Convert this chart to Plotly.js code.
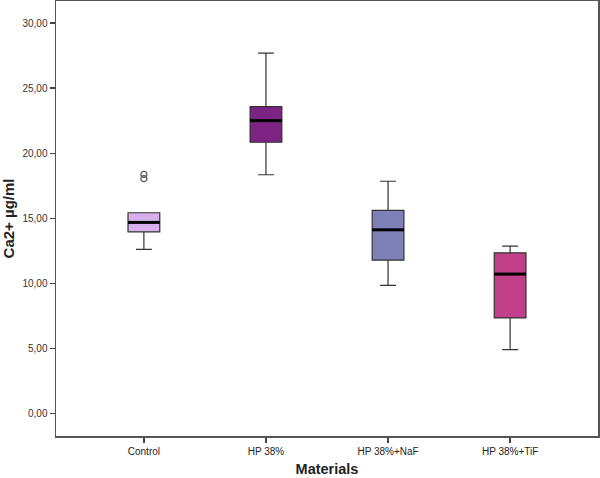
<!DOCTYPE html>
<html>
<head>
<meta charset="utf-8">
<script src="https://cdn.plot.ly/plotly-3.0.1.min.js"></script>
<style>html,body{margin:0;padding:0;background:#fff;}#chart{width:600px;height:478px;}</style>
</head>
<body>
<div id="chart"></div>
<script>
// Data
const categories = ["Control", "HP 38%", "HP 38%+NaF", "HP 38%+TiF"];
const lowerWhisker = [12.62, 18.35, 9.85, 4.92];
const q1 = [13.97, 20.85, 11.79, 7.35];
const medians = [14.69, 22.51, 14.12, 10.72];
const q3 = [15.43, 23.58, 15.62, 12.35];
const upperWhisker = [15.43, 27.69, 17.85, 12.87];
const outlierCategory = ["Control", "Control"];
const outlierValues = [18.38, 18.05];
const boxColors = ["#D9B0EE", "#7D2383", "#7E80B8", "#C2408A"];

const boxWidth = 0.26;
const traces = categories.map((c, i) => ({
  type: "box",
  x: [c],
  q1: [q1[i]],
  median: [medians[i]],
  q3: [q3[i]],
  lowerfence: [lowerWhisker[i]],
  upperfence: [upperWhisker[i]],
  width: boxWidth,
  whiskerwidth: 0.5,
  fillcolor: boxColors[i],
  line: {color: "#333333", width: 1.2},
  boxpoints: false,
  hoverinfo: "skip",
  showlegend: false
}));

traces.push({
  type: "scatter",
  mode: "markers",
  x: outlierCategory,
  y: outlierValues,
  marker: {symbol: "circle-open", size: 6, color: "#555555", line: {width: 1.2}},
  showlegend: false,
  hoverinfo: "skip"
});

const shapes = categories.map((c, i) => ({
  type: "line",
  xref: "x",
  yref: "y",
  x0: i - boxWidth / 2,
  x1: i + boxWidth / 2,
  y0: medians[i],
  y1: medians[i],
  line: {color: "#000000", width: 3}
}));

const layout = {
  width: 600,
  height: 478,
  margin: {l: 56, r: 2, t: 1, b: 42},
  paper_bgcolor: "#ffffff",
  plot_bgcolor: "#ffffff",
  separators: ",.",
  font: {family: "Liberation Sans, Arial, sans-serif", color: "#222"},
  shapes: shapes,
  xaxis: {
    type: "category",
    categoryarray: categories,
    range: [-0.72, 3.72],
    showgrid: false,
    zeroline: false,
    showline: true,
    mirror: true,
    linecolor: "#555555",
    linewidth: 1.5,
    ticks: "outside",
    ticklen: 5,
    tickwidth: 1.5,
    tickcolor: "#444444",
    tickfont: {size: 10, color: "#222"},
    title: {text: "<b>Materials</b>", font: {size: 14.5, color: "#222"}, standoff: 8}
  },
  yaxis: {
    range: [-1.72, 31.7],
    tickvals: [0, 5, 10, 15, 20, 25, 30],
    tickformat: ".2f",
    showgrid: false,
    zeroline: false,
    showline: true,
    mirror: true,
    linecolor: "#555555",
    linewidth: 1.5,
    ticks: "outside",
    ticklen: 5,
    tickwidth: 1.5,
    tickcolor: "#444444",
    tickfont: {size: 10, color: "#333"},
    title: {text: "<b>Ca2+ µg/ml</b>", font: {size: 15, color: "#222"}, standoff: 6}
  }
};

Plotly.newPlot("chart", traces, layout, {displayModeBar: false, staticPlot: true});
</script>
</body>
</html>
